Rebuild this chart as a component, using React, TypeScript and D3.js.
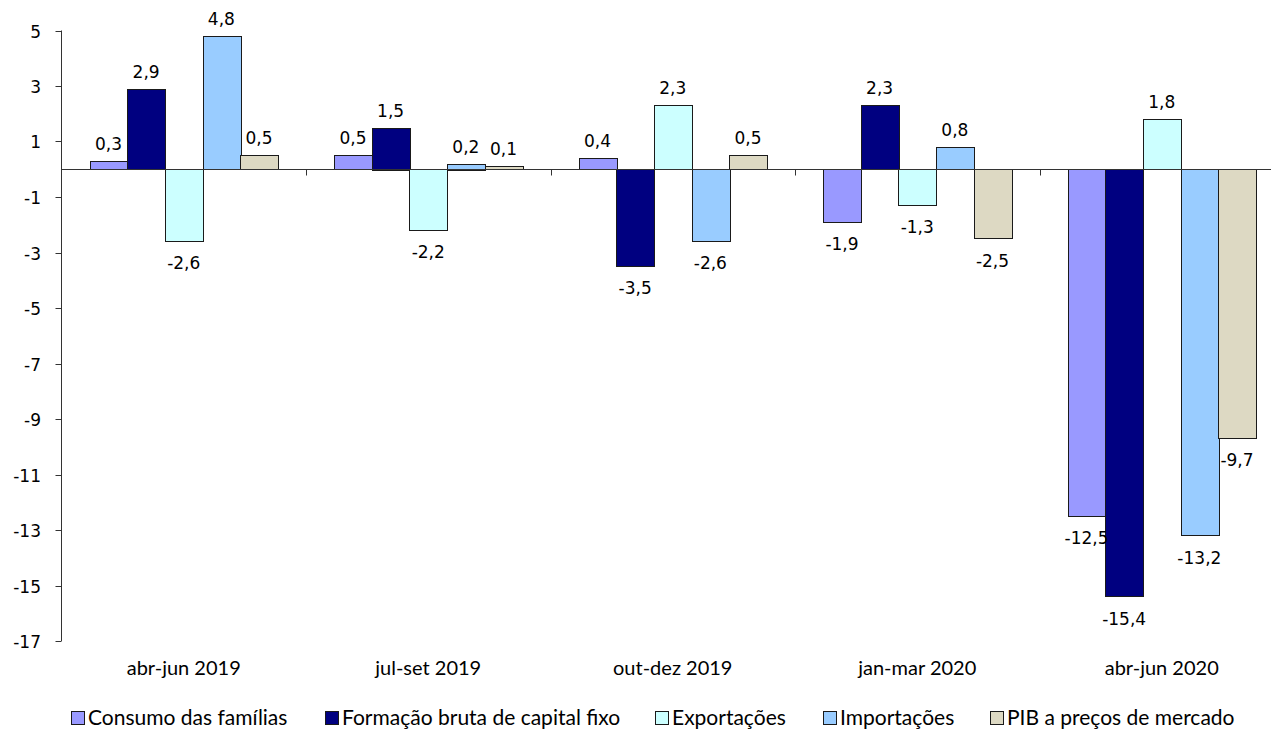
import React from "react";
import * as d3 from "d3";

const categories = ["abr-jun 2019", "jul-set 2019", "out-dez 2019", "jan-mar 2020", "abr-jun 2020"];
const seriesNames = [
  "Consumo das famílias",
  "Formação bruta de capital fixo",
  "Exportações",
  "Importações",
  "PIB a preços de mercado",
];
const consumo = [0.3, 0.5, 0.4, -1.9, -12.5];
const formacao = [2.9, 1.5, -3.5, 2.3, -15.4];
const exportacoes = [-2.6, -2.2, 2.3, -1.3, 1.8];
const importacoes = [4.8, 0.2, -2.6, 0.8, -13.2];
const pib = [0.5, 0.1, 0.5, -2.5, -9.7];
const yTicks = [5, 3, 1, -1, -3, -5, -7, -9, -11, -13, -15, -17];

const seriesValues = [consumo, formacao, exportacoes, importacoes, pib];
const colors = ["#9999FF", "#000080", "#CCFFFF", "#99CCFF", "#DDD9C3"];

const W = 1271;
const H = 736;
const plotLeft = 61.5;
const step = 244.5;
const legendX = [71, 325, 655, 823, 990];

const numFont = "'DejaVu Sans', Verdana, sans-serif";
const textFont = "Lato, 'Open Sans', sans-serif";

export default function App() {
  const x0 = d3
    .scaleBand<string>()
    .domain(categories)
    .range([plotLeft, plotLeft + step * categories.length])
    .paddingInner(0)
    .paddingOuter(0);
  const x1 = d3
    .scaleBand<string>()
    .domain(seriesNames)
    .range([0, x0.bandwidth()])
    .paddingInner(0)
    .paddingOuter(0.75);
  const y = d3.scaleLinear().domain([-17, 5]).range([641, 30.5]);
  const y0 = Math.round(y(0)) + 0.5;
  const fmt = (v: number) => d3.format(".1f")(v).replace(".", ",").replace("−", "-");

  return (
    <svg
      width={W}
      height={H}
      style={{ position: "absolute", left: 0, top: 0, background: "#fff" }}
    >
      {/* bars */}
      {categories.map((c, ci) => (
        <g key={c}>
          {seriesNames.map((s, si) => {
            const v = seriesValues[si][ci];
            const bx = x0(c)! + x1(s)!;
            const top = v >= 0 ? y(v) : y(0);
            const h = Math.abs(y(v) - y(0));
            return (
              <rect
                key={s}
                x={Math.round(bx) + 0.5}
                y={Math.round(top) + 0.5}
                width={Math.round(x1.bandwidth())}
                height={Math.max(1, Math.round(h))}
                fill={colors[si]}
                stroke="#1a1a1a"
                strokeWidth={1}
              />
            );
          })}
        </g>
      ))}

      {/* zero line */}
      <line x1={plotLeft} x2={W} y1={y0} y2={y0} stroke="#333" strokeWidth={1} />
      {/* category ticks */}
      {categories.slice(1).map((c) => {
        const tx = Math.round(x0(c)!) + 0.5;
        return <line key={c} x1={tx} x2={tx} y1={y0} y2={y0 + 6} stroke="#333" strokeWidth={1} />;
      })}

      {/* y axis */}
      <line x1={plotLeft} x2={plotLeft} y1={y(5)} y2={y(-17)} stroke="#333" strokeWidth={1} />
      {yTicks.map((t) => {
        const ty = Math.round(y(t)) + 0.5;
        return (
          <g key={t}>
            <line x1={plotLeft - 6} x2={plotLeft} y1={ty} y2={ty} stroke="#333" strokeWidth={1} />
            <text
              x={41}
              y={ty + 6}
              textAnchor="end"
              fontFamily={numFont}
              fontSize={17}
              fill="#000"
            >
              {t}
            </text>
          </g>
        );
      })}

      {/* value labels */}
      {categories.map((c, ci) =>
        seriesNames.map((s, si) => {
          const v = seriesValues[si][ci];
          const cx = x0(c)! + x1(s)! + x1.bandwidth() / 2;
          const ly = v >= 0 ? y(v) - 11 : y(v) + 28;
          return (
            <text
              key={c + s}
              x={cx}
              y={ly}
              textAnchor="middle"
              fontFamily={numFont}
              fontSize={17}
              fill="#000"
            >
              {fmt(v)}
            </text>
          );
        })
      )}

      {/* category labels */}
      {categories.map((c) => (
        <text
          key={c}
          x={x0(c)! + x0.bandwidth() / 2}
          y={675}
          textAnchor="middle"
          fontFamily={textFont}
          fontSize={20}
          fill="#000"
        >
          {c}
        </text>
      ))}

      {/* legend */}
      {seriesNames.map((s, si) => (
        <g key={s} transform={`translate(${legendX[si]},0)`}>
          <rect x={0.5} y={711.5} width={13} height={13} fill={colors[si]} stroke="#1a1a1a" strokeWidth={1} />
          <text x={17} y={725} fontFamily={textFont} fontSize={21} fill="#000">
            {s}
          </text>
        </g>
      ))}
    </svg>
  );
}
